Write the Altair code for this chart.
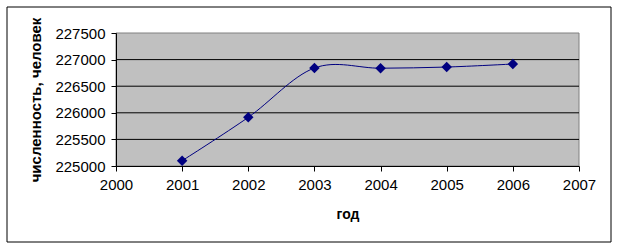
import altair as alt
import pandas as pd

years = [2001, 2002, 2003, 2004, 2005, 2006]
population = [225100, 225915, 226842, 226838, 226860, 226917]
y_ticks = [225000, 225500, 226000, 226500, 227000, 227500]
x_ticks = [2000, 2001, 2002, 2003, 2004, 2005, 2006, 2007]
grid_values = [225500, 226000, 226500, 227000]

W, H = 463, 133
FONT = "Liberation Sans"

df = pd.DataFrame({"year": years, "pop": population})
grid_df = pd.DataFrame({"pop": grid_values})

xscale = alt.Scale(domain=[2000, 2007], nice=False, zero=False)
yscale = alt.Scale(domain=[225000, 227500], nice=False, zero=False)

x_axis = alt.Axis(values=x_ticks, format="d", title="год", zindex=2,
                  titleY=41, titleBaseline="top", titleFontSize=14)
y_axis = alt.Axis(values=y_ticks, format="d", title="численность, человек",
                  zindex=2, titleX=-73, titleY=H / 2, titleFontSize=15)

frame = alt.Chart(alt.Data(values=[{}])).mark_rect(
    fill="white", stroke="black", strokeWidth=1
).encode(
    x=alt.value(-109), x2=alt.value(495), y=alt.value(-26), y2=alt.value(209)
)

plot_bg = alt.Chart(alt.Data(values=[{}])).mark_rect(
    fill="#C0C0C0", stroke="#808080", strokeWidth=1
).encode(
    x=alt.value(0), x2=alt.value(W), y=alt.value(0), y2=alt.value(H)
)

grid = alt.Chart(grid_df).mark_rule(color="black", strokeWidth=1).encode(
    y=alt.Y("pop:Q", scale=yscale, axis=y_axis),
    x=alt.value(0), x2=alt.value(W),
)

base = alt.Chart(df).encode(
    x=alt.X("year:Q", scale=xscale, axis=x_axis),
    y=alt.Y("pop:Q", scale=yscale, axis=y_axis),
)

line = base.mark_line(interpolate="cardinal", color="#000080", strokeWidth=1)
points = base.mark_point(shape="diamond", filled=True, color="#000080", size=110, opacity=1)

chart = alt.layer(frame, plot_bg, grid, line, points).properties(
    width=W, height=H,
    autosize=alt.AutoSizeParams(type="none"),
    padding={"left": 116, "top": 33, "right": 43, "bottom": 83},
    background="white",
).configure_view(stroke=None).configure_axis(
    grid=False, domainColor="black", tickColor="black", tickSize=5,
    labelFont=FONT, labelFontSize=15, labelColor="black", labelPadding=6,
    titleFont=FONT, titleFontWeight="bold", titleColor="black",
    labelFlush=False, labelOverlap=False,
)

chart.save("out.html", embed_options={"renderer": "svg", "actions": False})
